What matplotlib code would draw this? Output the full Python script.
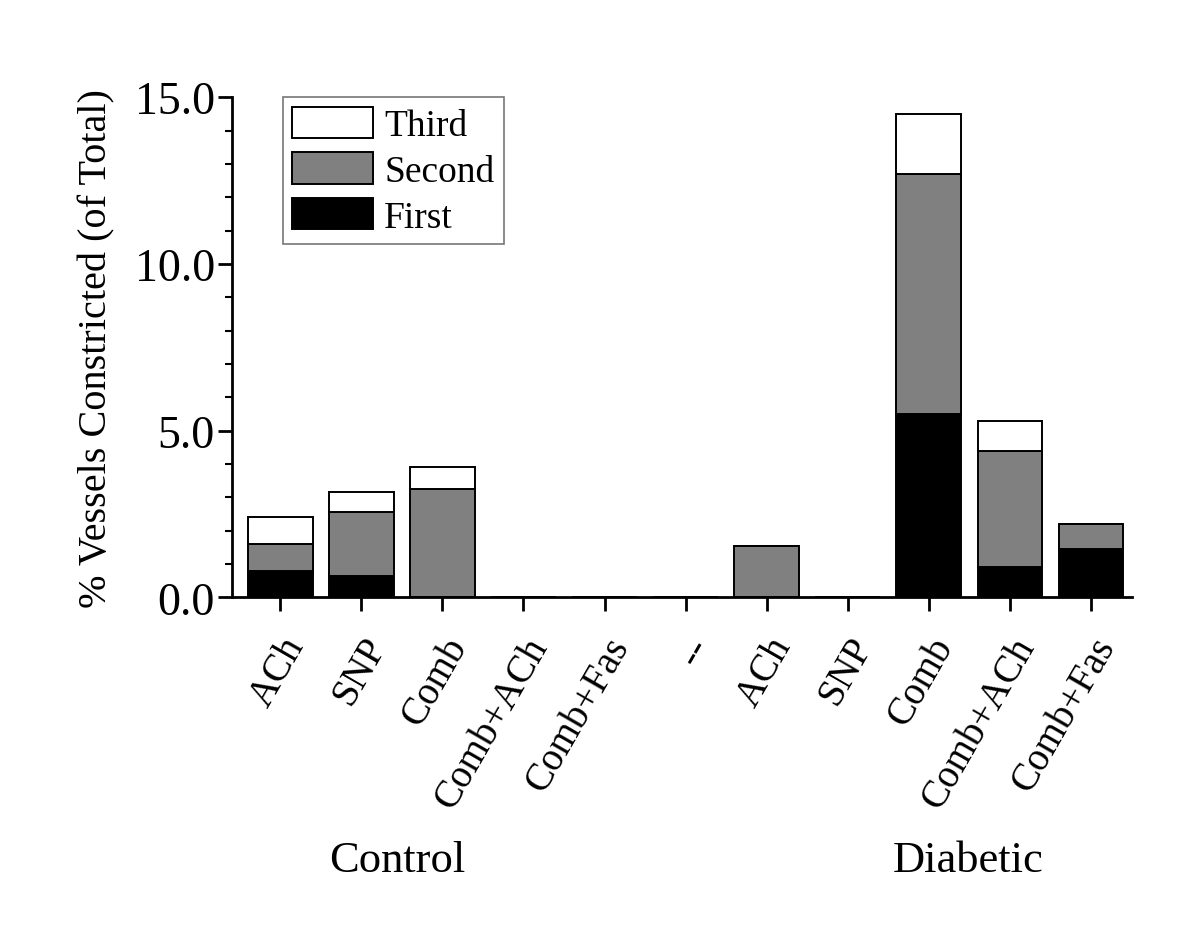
import numpy as np
import matplotlib.pyplot as plt
from matplotlib.ticker import MultipleLocator

plt.rcParams['font.family'] = ['Liberation Serif', 'DejaVu Serif']

# data
categories = ['ACh', 'SNP', 'Comb', 'Comb+ACh', 'Comb+Fas', '--',
              'ACh', 'SNP', 'Comb', 'Comb+ACh', 'Comb+Fas']
first = [0.8, 0.65, 0.0, 0.0, 0.0, 0.0, 0.0, 0.0, 5.5, 0.9, 1.45]
second = [0.8, 1.9, 3.25, 0.0, 0.0, 0.0, 1.55, 0.0, 7.2, 3.5, 0.75]
third = [0.8, 0.6, 0.65, 0.0, 0.0, 0.0, 0.0, 0.0, 1.8, 0.9, 0.0]
groups = ['Control', 'Diabetic']

x = np.arange(len(categories))
first = np.array(first)
second = np.array(second)
third = np.array(third)

fig = plt.figure(figsize=(12, 9.53), dpi=100)
ax = fig.add_axes([0.193, 0.372, 0.75, 0.525])

w = 0.8
ax.bar(x, first, w, color='black', edgecolor='black', linewidth=1.4, label='First')
ax.bar(x, second, w, bottom=first, color='#808080', edgecolor='black', linewidth=1.4, label='Second')
ax.bar(x, third, w, bottom=first + second, color='white', edgecolor='black', linewidth=1.4, label='Third')

ax.set_xlim(-0.6, 10.5)
ax.set_ylim(0, 15)
ax.yaxis.set_minor_locator(MultipleLocator(1))
ax.set_yticks([0, 5, 10, 15])
ax.set_yticklabels(['0.0', '5.0', '10.0', '15.0'], fontsize=33)
ax.set_xticks(x)
ax.set_xticklabels(categories, rotation=60, ha='right', rotation_mode='anchor', fontsize=28)

for s in ['top', 'right']:
    ax.spines[s].set_visible(False)
for s in ['left', 'bottom']:
    ax.spines[s].set_linewidth(2)
ax.tick_params(axis='both', which='major', direction='out', length=10, width=2)
ax.tick_params(axis='y', which='major', pad=2)
ax.tick_params(axis='y', which='minor', direction='out', length=5, width=1.5)
ax.tick_params(axis='x', pad=14)

ax.set_ylabel('% Vessels Constricted (of Total)', fontsize=29, labelpad=14)

h, l = ax.get_legend_handles_labels()
leg = ax.legend(h[::-1], l[::-1], loc='upper left', bbox_to_anchor=(0.057, 1.0),
                fontsize=27, frameon=True, fancybox=False, handlelength=2.15,
                handleheight=0.9, labelspacing=0.25, borderpad=0.25, handletextpad=0.3,
                borderaxespad=0.0)
leg.get_frame().set_edgecolor('#555555')
leg.get_frame().set_linewidth(1.2)

fig.text(0.331, 0.085, groups[0], fontsize=32, ha='center')
fig.text(0.807, 0.085, groups[1], fontsize=32, ha='center')

fig.savefig('out.png', dpi=100)
